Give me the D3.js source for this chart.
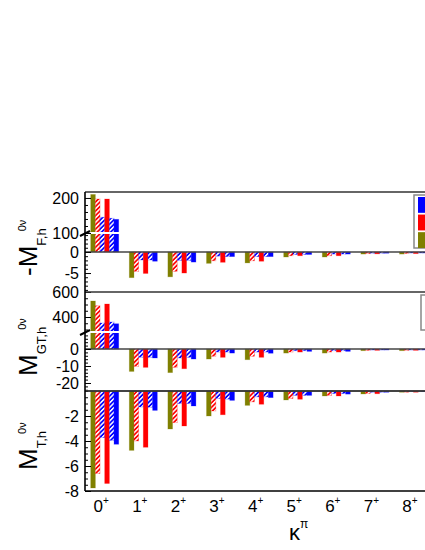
<html>
<head>
<script src="https://d3js.org/d3.v7.min.js"></script>
<style>
  body{margin:0;background:#fff;}
  svg text{font-family:"Liberation Sans",Arial,sans-serif;}
</style>
</head>
<body></body>
<script>

// categories (kappa^pi) and the six bar series per category
const categories = ["0","1","2","3","4","5","6","7","8"];
const series = ["oliveSolid","redHatch","blueHatch","redSolid","blueHatch2","blueSolid"];

// -M_F,h
const fOlive      = [210, -6.1, -5.9, -2.7, -2.6, -1.2, -1.2, -0.5, -0.5];
const fRedHatch   = [197, -4.6, -4.6, -2.1, -2.1, -0.9, -0.9, -0.4, -0.35];
const fBlueHatch  = [145, -1.9, -2.0, -1.0, -1.1, -0.6, -0.5, -0.3, -0.25];
const fRedSolid   = [197, -5.1, -5.0, -2.45, -2.2, -0.9, -0.9, -0.45, -0.4];
const fBlueHatch2 = [142, -1.9, -2.0, -1.1, -1.1, -0.6, -0.5, -0.3, -0.25];
const fBlueSolid  = [139, -2.2, -2.4, -1.1, -1.1, -0.6, -0.5, -0.3, -0.25];

// M_GT,h
const gtOlive      = [528, -13.2, -13.9, -5.9, -6.3, -2.4, -2.4, -1.0, -1.0];
const gtRedHatch   = [490, -10.2, -10.8, -4.3, -4.3, -1.8, -1.8, -0.8, -0.8];
const gtBlueHatch  = [352, -4.9, -5.3, -1.8, -1.8, -1.0, -1.0, -0.6, -0.6];
const gtRedSolid   = [504, -10.8, -11.6, -4.9, -4.9, -1.8, -1.8, -0.8, -0.8];
const gtBlueHatch2 = [360, -4.9, -4.9, -1.8, -1.8, -1.0, -1.0, -0.6, -0.6];
const gtBlueSolid  = [346, -5.3, -5.9, -2.4, -2.5, -1.4, -1.4, -0.6, -0.6];

// M_T,h
const tOlive      = [-7.76, -4.75, -3.04, -2.0, -1.15, -0.72, -0.4, -0.24, -0.1];
const tRedHatch   = [-6.6, -4.0, -2.53, -1.6, -0.87, -0.6, -0.35, -0.2, -0.1];
const tBlueHatch  = [-3.73, -1.28, -1.0, -0.6, -0.47, -0.35, -0.2, -0.1, -0.05];
const tRedSolid   = [-7.4, -4.5, -2.8, -1.9, -1.06, -0.66, -0.4, -0.22, -0.1];
const tBlueHatch2 = [-3.95, -1.3, -1.0, -0.65, -0.47, -0.35, -0.2, -0.1, -0.05];
const tBlueSolid  = [-4.26, -1.55, -1.2, -0.75, -0.53, -0.35, -0.25, -0.1, -0.05];

// tick values
const fUpperTicks = [100, 200];
const fUpperMinor = [120, 140, 160, 180];
const fLowerTicks = [-5, 0];
const fLowerMinor = [-9,-8,-7,-6,-4,-3,-2,-1,1,2,3,4];
const gtUpperTicks = [400, 600];
const gtUpperMinor = [300, 350, 450, 500, 550];
const gtLowerTicks = [-20, -10, 0];
const gtLowerMinor = [-24,-22,-18,-16,-14,-12,-8,-6,-4,-2,2,4,6,8];
const tTicks = [-8, -6, -4, -2];
const tMinor = [-7.5,-7,-6.5,-5.5,-5,-4.5,-3.5,-3,-2.5,-1.5,-1,-0.5,0];

const fills = {
  oliveSolid:"#808000", redHatch:"url(#hatchRed)", blueHatch:"url(#hatchBlue)",
  redSolid:"#ff0000", blueHatch2:"url(#hatchBlue)", blueSolid:"#0000ff"
};
const strokes = {
  oliveSolid:"#808000", redHatch:"#ff0000", blueHatch:"#0000ff",
  redSolid:"#ff0000", blueHatch2:"#0000ff", blueSolid:"#0000ff"
};

const W = 425, H = 550;
const axisX = 85, rightX = 445;

const svg = d3.select('body').append('svg').attr('width',W).attr('height',H);
const defs = svg.append('defs');

function hatch(id, color){
  const p = defs.append('pattern').attr('id',id)
    .attr('patternUnits','userSpaceOnUse')
    .attr('width',3.2).attr('height',3.2)
    .attr('patternTransform','rotate(45)');
  p.append('rect').attr('width',3.2).attr('height',3.2).attr('fill',color);
  p.append('rect').attr('width',1.5).attr('height',3.2).attr('fill','#fff');
}
hatch('hatchRed','#ff0000');
hatch('hatchBlue','#0000ff');

const x = d3.scaleBand().domain(categories).range([90.7, 427.5]).paddingInner(0.2746).paddingOuter(0);
const xs = d3.scaleBand().domain(series).range([0, x.bandwidth()]);

const panels = [
  {
    values:[fOlive,fRedHatch,fBlueHatch,fRedSolid,fBlueHatch2,fBlueSolid],
    lower: d3.scaleLinear().domain([-9.5, 4.5]).range([292, 233]),
    upper: d3.scaleLinear().domain([100, 217]).range([233, 192]),
    brk: 4.5,
    lowerTicks: fLowerTicks, lowerMinor: fLowerMinor,
    upperTicks: fUpperTicks, upperMinor: fUpperMinor,
    main:"-M", sub:"F,h", titleY:276
  },
  {
    values:[gtOlive,gtRedHatch,gtBlueHatch,gtRedSolid,gtBlueHatch2,gtBlueSolid],
    lower: d3.scaleLinear().domain([-25.3, 10]).range([392, 332]),
    upper: d3.scaleLinear().domain([280, 600]).range([332, 292]),
    brk: 10,
    lowerTicks: gtLowerTicks, lowerMinor: gtLowerMinor,
    upperTicks: gtUpperTicks, upperMinor: gtUpperMinor,
    main:"M", sub:"GT,h", titleY:376
  },
  {
    values:[tOlive,tRedHatch,tBlueHatch,tRedSolid,tBlueHatch2,tBlueSolid],
    lower: d3.scaleLinear().domain([-8, 0]).range([491, 391]),
    upper: null,
    brk: Infinity,
    lowerTicks: tTicks, lowerMinor: tMinor,
    main:"M", sub:"T,h", titleY:470
  }
];

panels.forEach(p => {
  const yv = v => (p.upper && v > p.brk) ? p.upper(v) : p.lower(v);
  const y0 = p.lower(0);
  const g = svg.append('g');
  g.selectAll('g')
    .data(series.map((s,k) => ({s, vals:p.values[k]})))
    .join('g')
    .attr('fill', d => fills[d.s])
    .attr('stroke', d => strokes[d.s])
    .attr('stroke-opacity', 0.3)
    .attr('stroke-width', 0.8)
    .selectAll('rect')
    .data(d => d.vals.map((v,i) => ({s:d.s, cat:categories[i], v})))
    .join('rect')
    .attr('x', d => x(d.cat) + xs(d.s))
    .attr('width', xs.bandwidth())
    .attr('y', d => Math.min(yv(d.v), y0))
    .attr('height', d => Math.abs(yv(d.v) - y0));

  if (p.upper){
    const by = p.lower(p.brk);
    g.append('rect').attr('x', axisX + 1).attr('y', by - 1)
      .attr('width', x(categories[0]) + x.bandwidth() - axisX + 2).attr('height', 2)
      .attr('fill', '#fff');
    g.append('line').attr('x1', axisX - 5).attr('y1', by + 3)
      .attr('x2', axisX + 5).attr('y2', by - 2)
      .attr('stroke', '#000').attr('stroke-width', 2);
  }

  // zero line
  svg.append('line').attr('x1', axisX).attr('x2', rightX)
    .attr('y1', y0).attr('y2', y0)
    .attr('stroke', '#444').attr('stroke-width', 1.6);

  const segs = [[p.lower, p.lowerTicks, p.lowerMinor]];
  if (p.upper) segs.push([p.upper, p.upperTicks, p.upperMinor]);
  segs.forEach(([sc, major, minor]) => {
    const a = svg.append('g').attr('transform', `translate(${axisX},0)`)
      .call(d3.axisLeft(sc).tickValues(major).tickSizeInner(-6).tickSizeOuter(0)
        .tickPadding(6).tickFormat(d => String(d)));
    a.select('.domain').remove();
    a.attr('font-size', 16).attr('font-family', '"Liberation Sans",Arial,sans-serif');
    a.selectAll('text').attr('fill', '#000');
    const m = svg.append('g').attr('transform', `translate(${axisX},0)`)
      .call(d3.axisLeft(sc).tickValues(minor).tickSizeInner(-3).tickSizeOuter(0).tickFormat(''));
    m.select('.domain').remove();
  });

  // y title
  const t = svg.append('text')
    .attr('transform', `translate(37,${p.titleY}) rotate(-90)`)
    .attr('fill', '#000');
  t.append('tspan').attr('font-size', 26).text(p.main);
  t.append('tspan').attr('font-size', 13).attr('dy', 9).text(p.sub);
  t.append('tspan').attr('font-size', 11).attr('dy', -20).attr('dx', -3).text('0\u03bd');
});

// frame lines
[192, 292, 391].forEach(yy => {
  svg.append('line').attr('x1', axisX).attr('x2', rightX).attr('y1', yy).attr('y2', yy)
    .attr('stroke', yy === 192 ? '#666' : '#333').attr('stroke-width', yy === 192 ? 2 : 1.6);
});
svg.append('line').attr('x1', axisX).attr('x2', rightX).attr('y1', 491).attr('y2', 491)
  .attr('stroke', '#000').attr('stroke-width', 1.6);
svg.append('line').attr('x1', axisX).attr('x2', axisX).attr('y1', 192).attr('y2', 491)
  .attr('stroke', '#000').attr('stroke-width', 1.6);

// x tick labels
const xl = svg.append('g');
categories.forEach(c => {
  const tx = xl.append('text').attr('x', x(c) + x.bandwidth()/2 - 3.5).attr('y', 512)
    .attr('text-anchor', 'middle').attr('font-size', 17).attr('fill', '#000');
  tx.append('tspan').text(c);
  tx.append('tspan').attr('font-size', 10).attr('dy', -8).text('+');
});

// x title
const xt = svg.append('text').attr('x', 289).attr('y', 540).attr('fill', '#000');
xt.append('tspan').attr('font-size', 22).text('\u03ba');
xt.append('tspan').attr('font-size', 12).attr('dy', -12).text('\u03c0');

// legends (cut by the right edge)
const legendColors = ["#0000ff", "#ff0000", "#808000"];
svg.append('rect').attr('x', 414).attr('y', 195).attr('width', 40).attr('height', 53)
  .attr('fill', '#fff').attr('stroke', '#888').attr('stroke-width', 1.5);
const ly = d3.scaleBand().domain(legendColors).range([197, 248]).paddingInner(0.1);
svg.selectAll('rect.leg').data(legendColors).join('rect').attr('class', 'leg')
  .attr('x', 418).attr('y', d => ly(d)).attr('width', 20).attr('height', ly.bandwidth())
  .attr('fill', d => d);
svg.append('rect').attr('x', 421).attr('y', 295).attr('width', 40).attr('height', 35)
  .attr('fill', '#fff').attr('stroke', '#888').attr('stroke-width', 1.5);

</script>
</html>
